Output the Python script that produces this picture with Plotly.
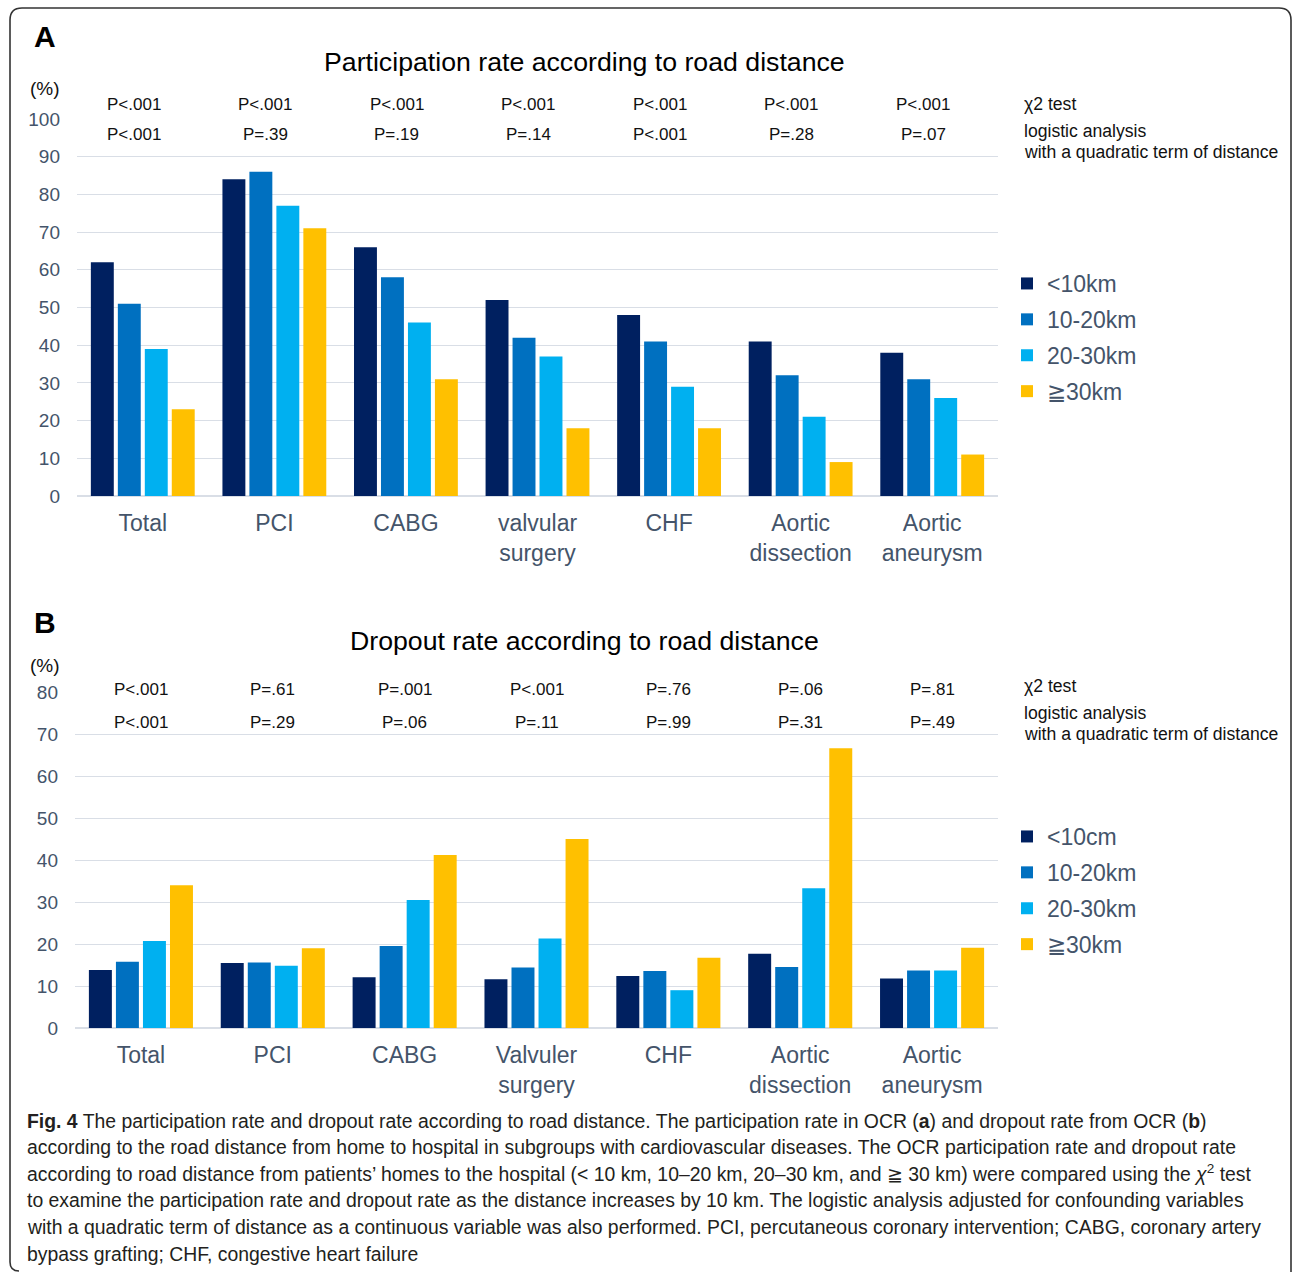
import plotly.graph_objects as go

W, H = 1292, 1272

# ---------------- data ----------------
cats_a = ["Total", "PCI", "CABG", "valvular<br>surgery", "CHF", "Aortic<br>dissection", "Aortic<br>aneurysm"]
cats_b = ["Total", "PCI", "CABG", "Valvuler<br>surgery", "CHF", "Aortic<br>dissection", "Aortic<br>aneurysm"]

series_a_names = ["<10km", "10-20km", "20-30km", "≧30km"]
series_b_names = ["<10cm", "10-20km", "20-30km", "≧30km"]

part_lt10 = [62, 84, 66, 52, 48, 41, 38]
part_10_20 = [51, 86, 58, 42, 41, 32, 31]
part_20_30 = [39, 77, 46, 37, 29, 21, 26]
part_ge30 = [23, 71, 31, 18, 18, 9, 11]

drop_lt10 = [13.8, 15.5, 12.1, 11.6, 12.4, 17.7, 11.8]
drop_10_20 = [15.8, 15.6, 19.5, 14.4, 13.6, 14.5, 13.7]
drop_20_30 = [20.7, 14.8, 30.5, 21.3, 9.0, 33.3, 13.7]
drop_ge30 = [34.0, 19.0, 41.2, 45.0, 16.7, 66.6, 19.1]

p_chi_a = ["P<.001", "P<.001", "P<.001", "P<.001", "P<.001", "P<.001", "P<.001"]
p_log_a = ["P<.001", "P=.39", "P=.19", "P=.14", "P<.001", "P=.28", "P=.07"]
p_chi_b = ["P<.001", "P=.61", "P=.001", "P<.001", "P=.76", "P=.06", "P=.81"]
p_log_b = ["P<.001", "P=.29", "P=.06", "P=.11", "P=.99", "P=.31", "P=.49"]

caption_lines = [
    "<b>Fig. 4</b> The participation rate and dropout rate according to road distance. The participation rate in OCR (<b>a</b>) and dropout rate from OCR (<b>b</b>)",
    "according to the road distance from home to hospital in subgroups with cardiovascular diseases. The OCR participation rate and dropout rate",
    "according to road distance from patients’ homes to the hospital (< 10 km, 10–20 km, 20–30 km, and ≧ 30 km) were compared using the <i>χ</i><sup>2</sup> test",
    "to examine the participation rate and dropout rate as the distance increases by 10 km. The logistic analysis adjusted for confounding variables",
    "with a quadratic term of distance as a continuous variable was also performed. PCI, percutaneous coronary intervention; CABG, coronary artery",
    "bypass grafting; CHF, congestive heart failure",
]

colors = ["#002060", "#0070C0", "#00B0F0", "#FFC000"]

# ---------------- helpers ----------------
def px_x(x):
    return x / W

def px_y(y):
    return 1 - y / H

FONT = "Liberation Sans, Arial, sans-serif"
AXC = "#44546A"
GRID = "#D9DEE6"

fig = go.Figure()

idx = list(range(7))
for name, vals, c in zip(series_a_names, [part_lt10, part_10_20, part_20_30, part_ge30], colors):
    fig.add_trace(go.Bar(x=idx, y=vals, name=name, marker=dict(color=c, line=dict(width=0)),
                         xaxis="x", yaxis="y", legend="legend", legendgroup="a" + name,
                         hoverinfo="skip"))
for name, vals, c in zip(series_b_names, [drop_lt10, drop_10_20, drop_20_30, drop_ge30], colors):
    fig.add_trace(go.Bar(x=idx, y=vals, name=name, marker=dict(color=c, line=dict(width=0)),
                         xaxis="x2", yaxis="y2", legend="legend2", legendgroup="b" + name,
                         hoverinfo="skip"))

xcommon = dict(tickmode="array", tickvals=idx, range=[-0.5, 6.5], showgrid=False,
               zeroline=False, showline=False, ticks="", automargin=False,
               tickfont=dict(size=23, color=AXC, family=FONT), ticklabelstandoff=11)
ycommon = dict(showgrid=True, gridcolor=GRID, gridwidth=1.3, zeroline=True, zerolinecolor=GRID,
               zerolinewidth=1.6, showline=False, ticks="", dtick=10, automargin=False,
               tickfont=dict(size=19, color=AXC, family=FONT), ticklabelstandoff=16)

fig.update_layout(
    width=W, height=H,
    margin=dict(l=0, r=0, t=0, b=0, pad=0, autoexpand=False),
    paper_bgcolor="white", plot_bgcolor="white",
    font=dict(family=FONT),
    barmode="group", bargap=0.18, bargroupgap=0.15,
    xaxis=dict(domain=[px_x(77), px_x(998)], anchor="y", ticktext=cats_a, **xcommon),
    yaxis=dict(domain=[px_y(496), px_y(119)], anchor="x", range=[0, 100], **ycommon),
    xaxis2=dict(domain=[px_x(75), px_x(998)], anchor="y2", ticktext=cats_b, **xcommon),
    yaxis2=dict(domain=[px_y(1028), px_y(692)], anchor="x2", range=[0, 80], **ycommon),
    legend=dict(x=px_x(1007), y=px_y(262), xanchor="left", yanchor="top",
                font=dict(size=23, color=AXC, family=FONT), tracegroupgap=3,
                bgcolor="rgba(0,0,0,0)", itemclick=False, itemdoubleclick=False),
    legend2=dict(x=px_x(1007), y=px_y(815), xanchor="left", yanchor="top",
                 font=dict(size=23, color=AXC, family=FONT), tracegroupgap=3,
                 bgcolor="rgba(0,0,0,0)", itemclick=False, itemdoubleclick=False),
    hovermode=False,
)

ann = []
# p-values (x in category units, y in page pixels)
for i in idx:
    for xr, dx, y, s in [("x", -0.07, 105, p_chi_a[i]), ("x", -0.07, 134, p_log_a[i]),
                         ("x2", 0.0, 689, p_chi_b[i]), ("x2", 0.0, 722, p_log_b[i])]:
        ann.append(dict(x=i + dx, y=px_y(y), xref=xr, yref="paper", text=s, showarrow=False,
                        yanchor="middle", font=dict(size=17, color="#111", family=FONT)))

def txt(x, y, s, size, color="#111", xanchor="center", bold=False):
    ann.append(dict(x=px_x(x), y=px_y(y), xref="paper", yref="paper", text=("<b>%s</b>" % s) if bold else s,
                    showarrow=False, xanchor=xanchor, yanchor="middle",
                    font=dict(size=size, color=color, family=FONT)))

# panel labels, titles, units
txt(45, 37, "A", 30, "#000", bold=True)
txt(45, 623, "B", 30, "#000", bold=True)
txt(584, 62, "Participation rate according to road distance", 26.7, "#000")
txt(584, 641, "Dropout rate according to road distance", 26.7, "#000")
txt(45, 89, "(%)", 19, "#111")
txt(45, 665, "(%)", 19, "#111")

# right side test labels
for (y1, y2, y3) in [(104, 131, 152), (686, 713, 734)]:
    txt(1022, y1, "χ2 test", 17.6, "#111", xanchor="left")
    txt(1022, y2, "logistic analysis", 17.6, "#111", xanchor="left")
    txt(1022, y3, "with a quadratic term of distance", 17.6, "#111", xanchor="left")

# caption
cap_y = [1121, 1147, 1173, 1200, 1227, 1254]
for s, y in zip(caption_lines, cap_y):
    ann.append(dict(x=px_x(25), y=px_y(y), xref="paper", yref="paper", text=s, showarrow=False,
                    xanchor="left", yanchor="middle",
                    font=dict(size=19.4, color="#231F20", family=FONT)))

fig.update_layout(annotations=ann)

# frame (rounded border)
path = ("M {a},{b} L {a},{c} Q {a},{d} {e},{d} L {f},{d} Q {g},{d} {g},{h} L {g},{i}"
        .format(a=px_x(10), b=px_y(1262), c=px_y(20), d=px_y(8), e=px_x(22),
                f=px_x(1279), g=px_x(1291), h=px_y(20), i=px_y(1272)))
path2 = "M {a},{b} Q {a},{c} {d},{c}".format(a=px_x(10), b=px_y(1262), c=px_y(1271), d=px_x(19))
fig.update_layout(shapes=[
    dict(type="path", path=path, xref="paper", yref="paper", line=dict(color="#333", width=1.6)),
    dict(type="path", path=path2, xref="paper", yref="paper", line=dict(color="#333", width=1.6)),
])

fig.write_html("out.html")
